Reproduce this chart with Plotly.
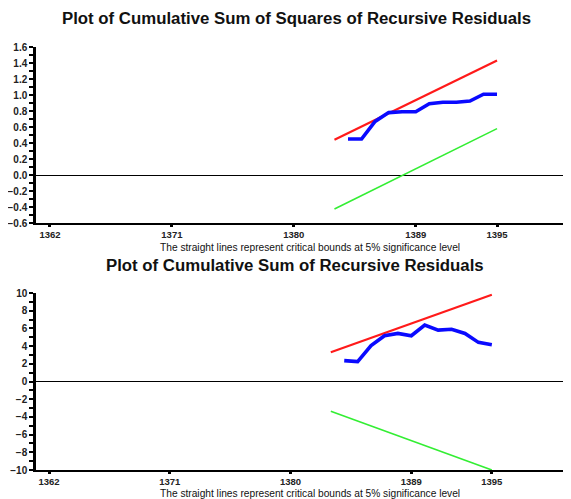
import plotly.graph_objects as go
from plotly.subplots import make_subplots

# Top panel: CUSUM of squares
years_sq = [1384, 1385, 1386, 1387, 1388, 1389, 1390, 1391, 1392, 1393, 1394, 1395]
cusumsq = [0.45, 0.45, 0.67, 0.78, 0.79, 0.79, 0.89, 0.91, 0.91, 0.925, 1.01, 1.01]
bound_years = [1383, 1395]
sq_upper = [0.44, 1.43]
sq_lower = [-0.425, 0.58]

# Bottom panel: CUSUM
years_cs = [1384, 1385, 1386, 1387, 1388, 1389, 1390, 1391, 1392, 1393, 1394, 1395]
cusum = [2.36, 2.25, 4.05, 5.17, 5.43, 5.17, 6.37, 5.8, 5.9, 5.43, 4.42, 4.16]
cs_upper = [3.3, 9.8]
cs_lower = [-3.37, -10.0]

x_ticks = [1362, 1371, 1380, 1389, 1395]
x_ticklabels = ["1362", "1371", "1380", "1389", "1395"]

title_top = "Plot of Cumulative Sum of Squares of Recursive Residuals"
title_bot = "Plot of Cumulative Sum of Recursive Residuals"
note = "The straight lines represent critical bounds at 5% significance level"

# page size and default body offset of the html page
PW, PH = 571, 499
OFF = 8
W, H = PW - OFF, PH - OFF

# page-pixel geometry of the plot areas
left_px, right_px = 36, 571
top_t, top_b = 47, 223
bot_t, bot_b = 293, 470

ml = left_px - OFF
mr = PW - right_px
mt = top_t - OFF
mb = PH - bot_b
ph = H - mt - mb
top_dom = [(bot_b - top_b) / ph, 1.0]
bot_dom = [0.0, (bot_b - bot_t) / ph]

fig = make_subplots(rows=2, cols=1)

RED = "#ff1a1a"
GREEN = "#33ee33"
BLUE = "#0a0aff"

fig.add_trace(go.Scatter(x=bound_years, y=sq_upper, mode="lines",
                         line=dict(color=RED, width=2.2)), row=1, col=1)
fig.add_trace(go.Scatter(x=bound_years, y=sq_lower, mode="lines",
                         line=dict(color=GREEN, width=1.6)), row=1, col=1)
fig.add_trace(go.Scatter(x=years_sq, y=cusumsq, mode="lines",
                         line=dict(color=BLUE, width=3.6)), row=1, col=1)

fig.add_trace(go.Scatter(x=bound_years, y=cs_upper, mode="lines",
                         line=dict(color=RED, width=2.2)), row=2, col=1)
fig.add_trace(go.Scatter(x=bound_years, y=cs_lower, mode="lines",
                         line=dict(color=GREEN, width=1.6)), row=2, col=1)
fig.add_trace(go.Scatter(x=years_cs, y=cusum, mode="lines",
                         line=dict(color=BLUE, width=3.6)), row=2, col=1)

ytickfont = dict(family="Liberation Sans", size=10, color="#222", weight="bold")
xtickfont = dict(family="Liberation Sans", size=9.5, color="#222", weight="bold")

xcommon = dict(tickmode="array", tickvals=x_ticks, ticktext=x_ticklabels,
               showgrid=False, zeroline=False, showline=True, linecolor="black",
               linewidth=2, ticks="outside", ticklen=2, tickwidth=3, tickcolor="black",
               tickfont=xtickfont)
fig.update_xaxes(**xcommon)
fig.update_xaxes(range=[1360.97, 1400.46], row=1, col=1)
fig.update_xaxes(range=[1361.03, 1400.9], row=2, col=1)

ycommon = dict(showgrid=False, zeroline=True, zerolinecolor="black", zerolinewidth=1.2,
               showline=True, linecolor="black", linewidth=2.5,
               ticks="outside", ticklen=4, tickwidth=2, tickcolor="black",
               tickfont=ytickfont)
fig.update_yaxes(**ycommon)
fig.update_yaxes(range=[-0.6, 1.6], dtick=0.2, tick0=0, tickformat=".1f",
                 minor=dict(dtick=0.1, ticks="outside", ticklen=4, tickwidth=2, tickcolor="black"),
                 row=1, col=1)
fig.update_yaxes(range=[-10, 10], dtick=2, tick0=0, tickformat="d",
                 minor=dict(dtick=1, ticks="outside", ticklen=4, tickwidth=2, tickcolor="black"),
                 row=2, col=1)

fig.update_layout(
    xaxis=dict(domain=[0, 1]), xaxis2=dict(domain=[0, 1]),
    yaxis=dict(domain=top_dom), yaxis2=dict(domain=bot_dom),
)

def px_x(px):
    return (px - left_px) / (right_px - left_px)

def px_y(py):
    return (bot_b - py) / ph

annos = [
    dict(text="<b>" + title_top + "</b>", x=px_x(296), y=px_y(18), size=16.8),
    dict(text=note, x=px_x(310), y=px_y(247), size=10.2),
    dict(text="<b>" + title_bot + "</b>", x=px_x(295), y=px_y(265), size=16.8),
    dict(text=note, x=px_x(310), y=px_y(493), size=10.2),
]
for a in annos:
    fig.add_annotation(text=a["text"], x=a["x"], y=a["y"], xref="paper", yref="paper",
                       xanchor="center", yanchor="middle", showarrow=False,
                       font=dict(family="Liberation Sans", size=a["size"], color="#111"))

fig.update_layout(width=W, height=H, margin=dict(l=ml, r=mr, t=mt, b=mb),
                  paper_bgcolor="white", plot_bgcolor="white", showlegend=False)

fig.write_html("out.html")
